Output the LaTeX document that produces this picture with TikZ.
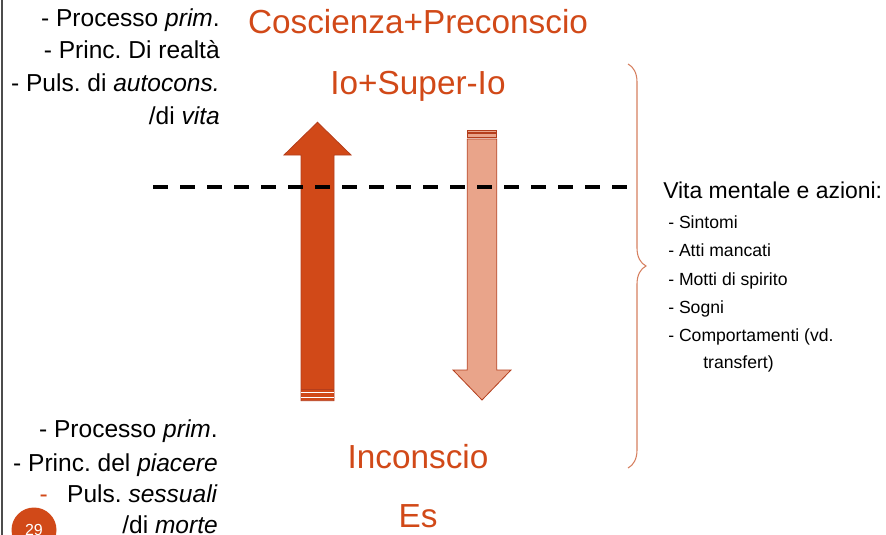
\documentclass[tikz,border=0pt]{standalone}
\usepackage{fontspec}
\setmainfont{Liberation Sans}
\usetikzlibrary{decorations.pathreplacing}
\frenchspacing

\definecolor{ppOrange}{RGB}{209,73,24}
\definecolor{ppSalmon}{RGB}{233,164,138}
\definecolor{ppRust}{RGB}{180,62,28}
\definecolor{ppBrace}{RGB}{214,128,96}

\tikzset{
  side/.style={anchor=base east, inner sep=0, font=\fontsize{18.4}{22}\selectfont},
  titolo/.style={anchor=base, inner sep=0, text=ppOrange, font=\fontsize{25}{30}\selectfont},
  voce/.style={anchor=base west, inner sep=0, font=\fontsize{13.2}{16}\selectfont}
}

\begin{document}
\begin{tikzpicture}[x=0.75pt, y=-0.75pt]
  \clip (0,0) rectangle (886,535);

  % bordo della slide
  \draw[gray!60!black, line width=0.9pt] (2,0) -- (2,535);

  % titoli
  \node[titolo] (conscio) at (418,34) {Coscienza+Preconscio};
  \node[titolo] (io) at (418,94) {Io+Super-Io};
  \node[titolo] (inconscio) at (418,468) {Inconscio};
  \node[titolo] (es) at (418,527) {Es};

  % testo a sinistra, in alto
  \node[side] (sopra1) at (220,27) {- Processo \textit{prim}.};
  \node[side] (sopra2) at (220,59) {- Princ. Di realtà};
  \node[side] (sopra3) at (220,92) {- Puls. di \textit{autocons.}};
  \node[side] (sopra4) at (220,125) {/di \textit{vita}};

  % testo a sinistra, in basso
  \node[side] (sotto1) at (218,437) {- Processo \textit{prim}.};
  \node[side] (sotto2) at (218,471) {- Princ. del \textit{piacere}};
  \node[side] (sotto3) at (218,502) {Puls. \textit{sessuali}};
  \node[side] (sotto4) at (218,533) {/di \textit{morte}};
  \node[side, text=ppOrange] (trattino) at (48,502) {-};

  % freccia in su
  \filldraw[fill=ppOrange, draw=ppRust, line width=0.6pt]
    (301,400.7) -- (301,155) -- (284,155) -- (317.5,122.3) -- (351,155) -- (334,155) -- (334,400.7) -- cycle;
  \draw[ppRust, line width=0.5pt] (301,389.3) -- (334,389.3);
  \draw[white, line width=0.7pt] (301,392.7) -- (334,392.7) (301,397.3) -- (334,397.3);

  % freccia in giu
  \filldraw[fill=ppSalmon, draw=ppRust, line width=0.6pt]
    (467.3,139) -- (467.3,370) -- (453,370) -- (482,400) -- (511,370) -- (496.7,370) -- (496.7,139) -- cycle;
  \filldraw[fill=ppSalmon, draw=ppRust, line width=0.5pt] (467.3,130) rectangle (496.7,132);
  \filldraw[fill=ppSalmon, draw=ppRust, line width=0.5pt] (467.3,133.5) rectangle (496.7,137.5);

  % linea tratteggiata
  \draw[line width=3pt, dash pattern=on 11pt off 9.25pt] (153,187) -- (628,187);

  % graffa
  \draw[ppBrace, line width=0.8pt, decorate, decoration={brace, amplitude=13.5pt}]
    (628,64) -- (628,468);

  % testo a destra
  \node[anchor=base west, inner sep=0, font=\fontsize{17.2}{20}\selectfont] (vita) at (663,198) {Vita mentale e azioni:};
  \node[voce] (v1) at (668,228.5) {- Sintomi};
  \node[voce] (v2) at (668,256.5) {- Atti mancati};
  \node[voce] (v3) at (668,285.5) {- Motti di spirito};
  \node[voce] (v4) at (668,313.5) {- Sogni};
  \node[voce] (v5) at (668,341.5) {- Comportamenti (vd.};
  \node[voce] (v6) at (703,368.5) {transfert)};

  % numero di pagina
  \node[circle, fill=ppOrange, text=white, inner sep=0, minimum size=33.75pt,
    font=\fontsize{12}{14}\selectfont] (pagina) at (34,530) {29};
\end{tikzpicture}
\end{document}
